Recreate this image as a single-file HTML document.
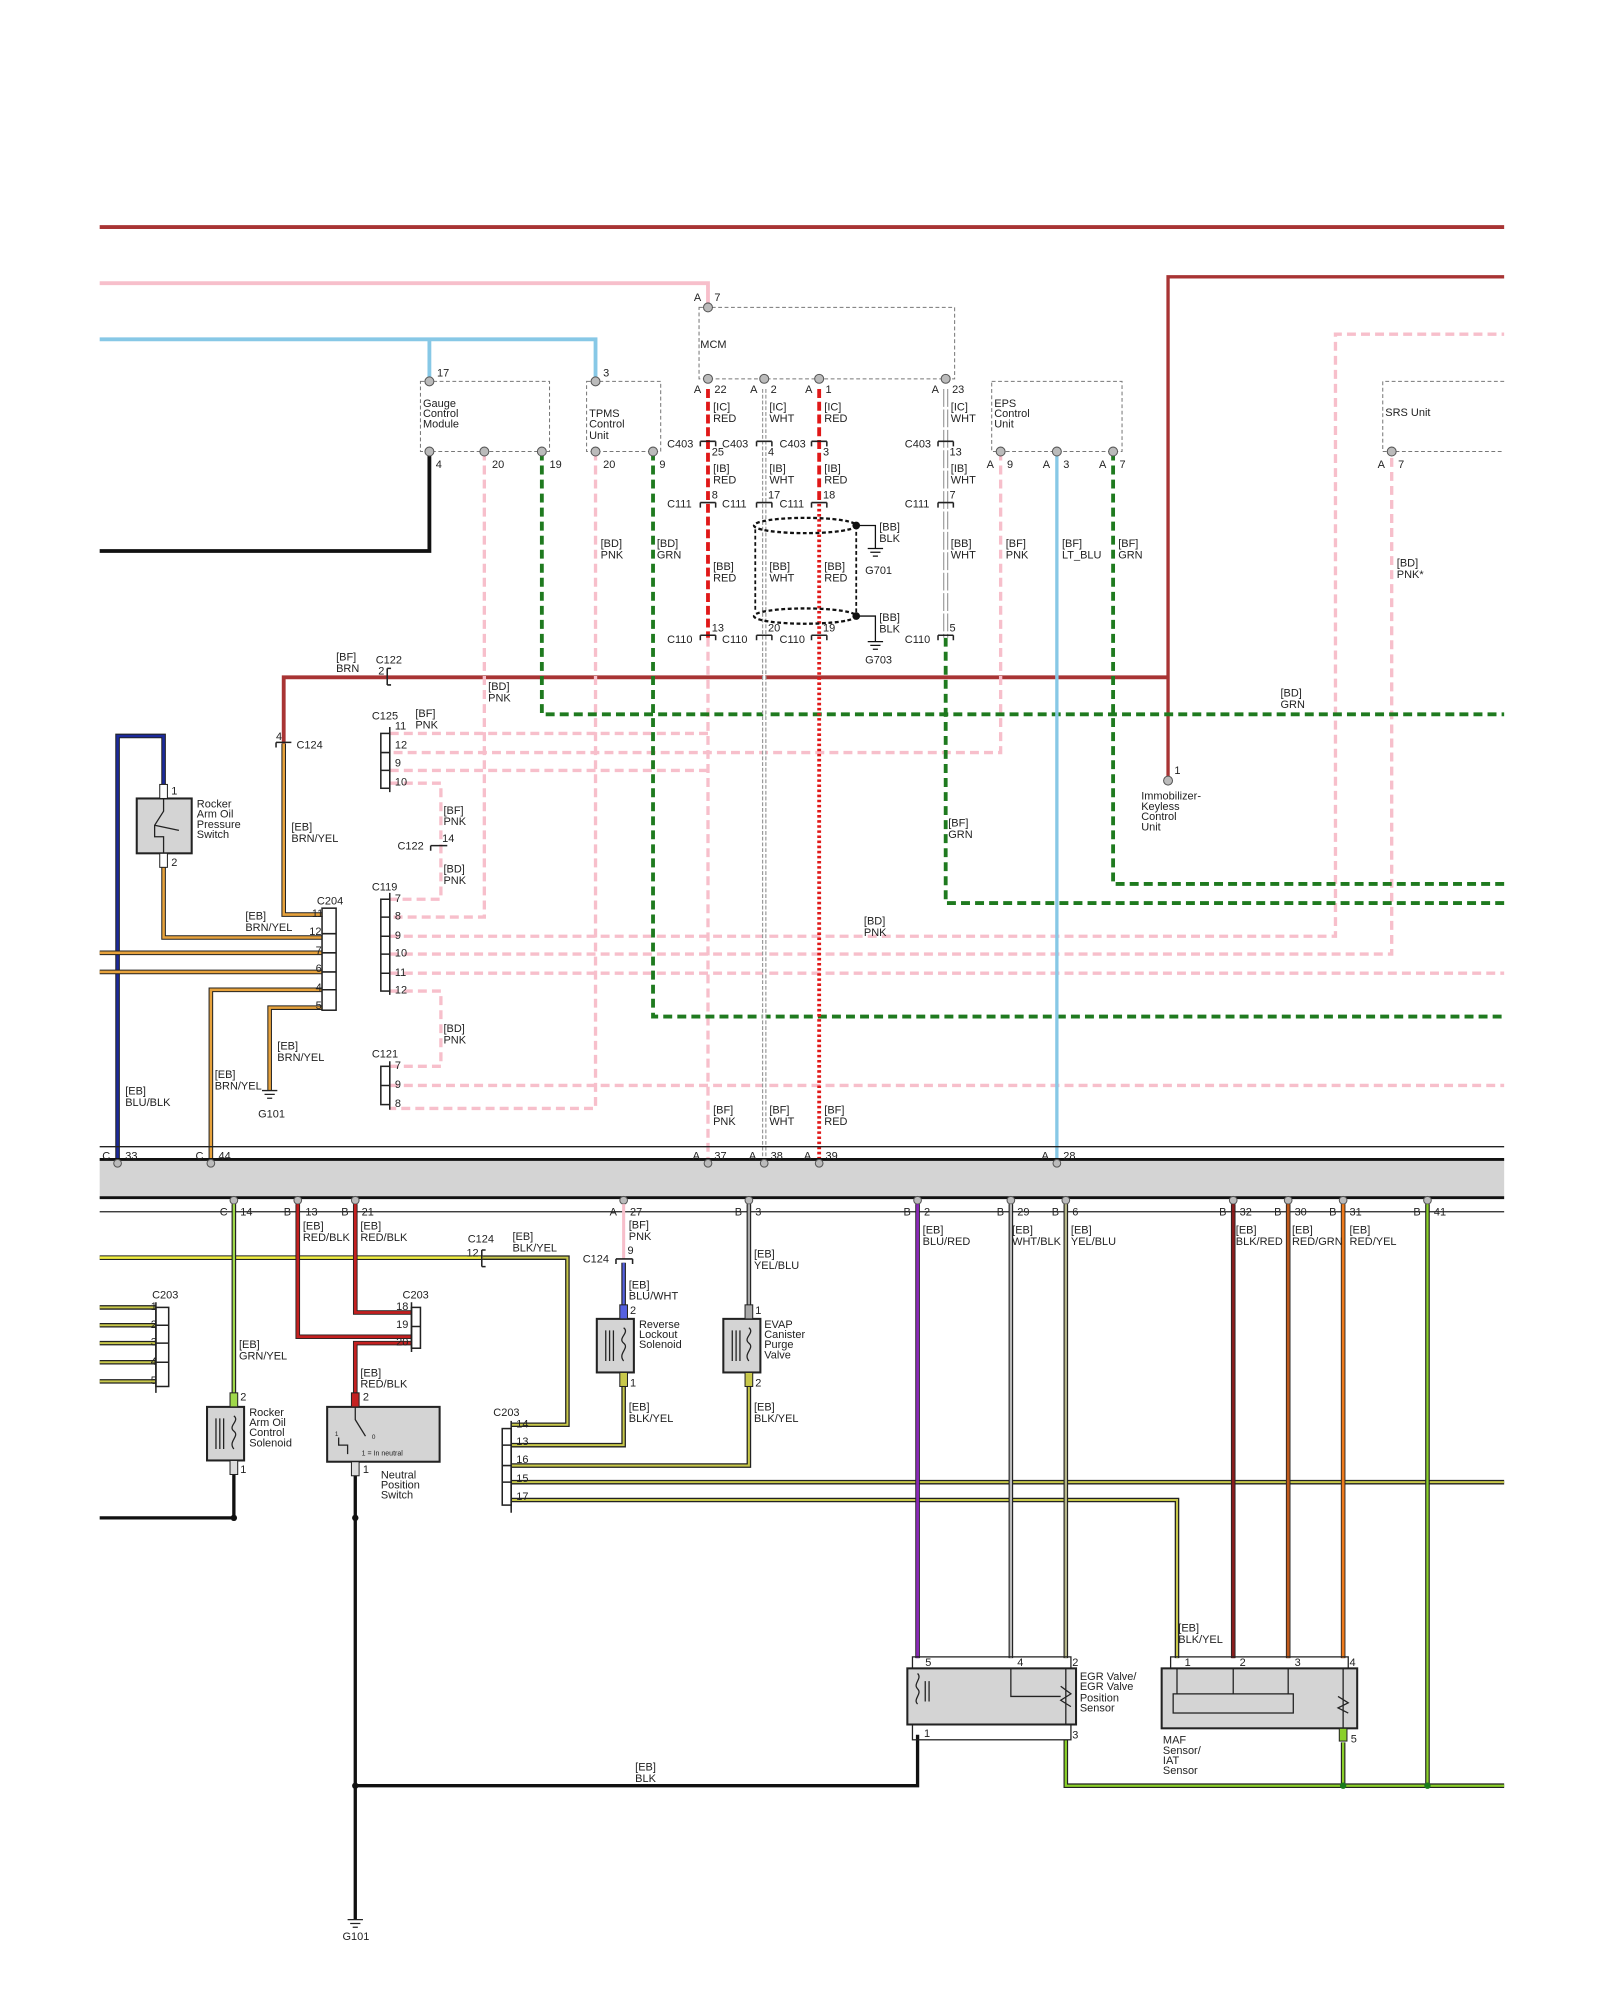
<!DOCTYPE html>
<html><head><meta charset="utf-8"><style>
html,body{margin:0;padding:0;background:#fff;}
svg{display:block;}
text{font-family:"Liberation Sans",sans-serif;font-size:8.6px;fill:#222;}
.k{fill:none;stroke:#222;stroke-width:3.6;}
.dp{fill:none;stroke:#f7bfcb;stroke-width:2.6;stroke-dasharray:7 4;}
.dg{fill:none;stroke:#1f7a1f;stroke-width:3;stroke-dasharray:7 4;}
.box{fill:none;stroke:#777;stroke-width:0.8;stroke-dasharray:3 2;}
.pin{fill:#bbb;stroke:#555;stroke-width:0.8;}
.comp{fill:#d4d4d4;stroke:#222;stroke-width:1.6;}
.cn{fill:none;stroke:#222;stroke-width:1.2;}
</style></head><body>
<svg width="1600" height="2000" viewBox="0 0 1252 1568" preserveAspectRatio="none" xmlns="http://www.w3.org/2000/svg">
<rect width="1252" height="1568" fill="#fff"/>
<!-- top wires -->
<path d="M78 178H1177" stroke="#a83434" stroke-width="3" fill="none"/>
<path d="M78 222H554V241" stroke="#f7bfcb" stroke-width="3" fill="none"/>
<path d="M78 266H466V299M336 266V299" stroke="#87c8e6" stroke-width="3" fill="none"/>
<path d="M1177 217H914V612" stroke="#a83434" stroke-width="2.6" fill="none"/>
<path d="M914 531H222V583" stroke="#a83434" stroke-width="3" fill="none"/>
<path d="M336 354V432H78" stroke="#111" stroke-width="3" fill="none"/>
<!-- boxes -->
<rect x="547" y="241" width="200" height="56" class="box"/>
<rect x="329" y="299" width="101" height="55" class="box"/>
<rect x="459" y="299" width="58" height="55" class="box"/>
<rect x="776" y="299" width="102" height="55" class="box"/>
<path d="M1177 299H1082V354H1177" class="box"/>
<text x="548" y="273">MCM</text>
<text x="331" y="319">Gauge</text><text x="331" y="327">Control</text><text x="331" y="335">Module</text>
<text x="461" y="327">TPMS</text><text x="461" y="335">Control</text><text x="461" y="344">Unit</text>
<text x="778" y="319">EPS</text><text x="778" y="327">Control</text><text x="778" y="335">Unit</text>
<text x="1084" y="326">SRS Unit</text>
<!-- pink dashed -->
<path class="dp" d="M379 354V719H305"/>
<path class="dp" d="M466 354V869H305"/>
<path class="dp" d="M554 500V912"/>
<path class="dp" d="M305 575H554M305 604H554"/>
<path class="dp" d="M783 354V590H305"/>
<path class="dp" d="M305 614H345V705H305"/>
<path class="dp" d="M305 734H1045V262H1177"/>
<path class="dp" d="M305 748H1089V354"/>
<path class="dp" d="M305 763H1177"/>
<path class="dp" d="M305 777H345V836H305"/>
<path class="dp" d="M305 851H1177"/>
<!-- green dashed -->
<path class="dg" d="M424 354V560H1177"/>
<path class="dg" d="M511 354V797H1177"/>
<path class="dg" d="M740 500V708H1177"/>
<path class="dg" d="M871 354V693H1177"/>
<path d="M827 354V912" stroke="#87c8e6" stroke-width="2.6" fill="none"/>
<!-- MCM wires -->
<path d="M554 305V500" stroke="#e01818" stroke-width="3" stroke-dasharray="7 3" fill="none"/>
<path d="M641 305V395" stroke="#e01818" stroke-width="3" stroke-dasharray="7 3" fill="none"/>
<path d="M641 395V912" stroke="#e01818" stroke-width="3" stroke-dasharray="2 2" fill="none"/>
<path d="M598 305V912" stroke="#999" stroke-width="3.5" stroke-dasharray="3 1.5" fill="none"/>
<path d="M598 305V912" stroke="#fff" stroke-width="1.6" fill="none"/>
<path d="M740 305V500" stroke="#999" stroke-width="4" stroke-dasharray="14 2" fill="none"/>
<path d="M740 305V500" stroke="#fff" stroke-width="2.2" fill="none"/>
<!-- shield -->
<ellipse cx="630" cy="412" rx="40" ry="6" fill="none" stroke="#111" stroke-width="1.8" stroke-dasharray="3 2"/>
<ellipse cx="630" cy="483" rx="40" ry="6" fill="none" stroke="#111" stroke-width="1.8" stroke-dasharray="3 2"/>
<path d="M591 415V480M670 412V483" stroke="#111" stroke-width="1.4" stroke-dasharray="3 2" fill="none"/>
<circle cx="670" cy="412" r="3" fill="#111"/><circle cx="670" cy="483" r="3" fill="#111"/>
<path d="M670 412H685V430M679 430H691M681 433H689M683 436H687" stroke="#111" stroke-width="1" fill="none"/>
<path d="M670 483H685V503M679 503H691M681 506H689M683 509H687" stroke="#111" stroke-width="1" fill="none"/>
<text x="688" y="416">[BB]</text><text x="688" y="425">BLK</text><text x="677" y="450">G701</text>
<text x="688" y="487">[BB]</text><text x="688" y="496">BLK</text><text x="677" y="520">G703</text>
<!-- inline connectors -->
<g class="cn">
<path d="M548 346H560M548 346V350M560 346V350M592 346H604M592 346V350M604 346V350M635 346H647M635 346V350M647 346V350M734 346H746M734 346V350M746 346V350"/>
<path d="M548 394H560M548 394V398M560 394V398M592 394H604M592 394V398M604 394V398M635 394H647M635 394V398M647 394V398M734 394H746M734 394V398M746 394V398"/>
<path d="M548 498H560M548 498V502M560 498V502M592 498H604M592 498V502M604 498V502M635 498H647M635 498V502M647 498V502M734 498H746M734 498V502M746 498V502"/>
</g>
<text x="522" y="351">C403</text><text x="565" y="351">C403</text><text x="610" y="351">C403</text><text x="708" y="351">C403</text>
<text x="522" y="398">C111</text><text x="565" y="398">C111</text><text x="610" y="398">C111</text><text x="708" y="398">C111</text>
<text x="522" y="504">C110</text><text x="565" y="504">C110</text><text x="610" y="504">C110</text><text x="708" y="504">C110</text>
<text x="557" y="357">25</text><text x="601" y="357">4</text><text x="644" y="357">3</text><text x="743" y="357">13</text>
<text x="557" y="391">8</text><text x="601" y="391">17</text><text x="644" y="391">18</text><text x="743" y="391">7</text>
<text x="557" y="495">13</text><text x="601" y="495">20</text><text x="644" y="495">19</text><text x="743" y="495">5</text>
<text x="558" y="322">[IC]</text><text x="558" y="331">RED</text>
<text x="602" y="322">[IC]</text><text x="602" y="331">WHT</text>
<text x="645" y="322">[IC]</text><text x="645" y="331">RED</text>
<text x="744" y="322">[IC]</text><text x="744" y="331">WHT</text>
<text x="558" y="370">[IB]</text><text x="558" y="379">RED</text>
<text x="602" y="370">[IB]</text><text x="602" y="379">WHT</text>
<text x="645" y="370">[IB]</text><text x="645" y="379">RED</text>
<text x="744" y="370">[IB]</text><text x="744" y="379">WHT</text>
<text x="558" y="447">[BB]</text><text x="558" y="456">RED</text>
<text x="602" y="447">[BB]</text><text x="602" y="456">WHT</text>
<text x="645" y="447">[BB]</text><text x="645" y="456">RED</text>
<text x="744" y="429">[BB]</text><text x="744" y="438">WHT</text>
<!-- pins top -->
<g class="pin">
<circle cx="554" cy="241" r="3.5"/><circle cx="336" cy="299" r="3.5"/><circle cx="466" cy="299" r="3.5"/>
<circle cx="554" cy="297" r="3.5"/><circle cx="598" cy="297" r="3.5"/><circle cx="641" cy="297" r="3.5"/><circle cx="740" cy="297" r="3.5"/>
<circle cx="336" cy="354" r="3.5"/><circle cx="379" cy="354" r="3.5"/><circle cx="424" cy="354" r="3.5"/>
<circle cx="466" cy="354" r="3.5"/><circle cx="511" cy="354" r="3.5"/>
<circle cx="783" cy="354" r="3.5"/><circle cx="827" cy="354" r="3.5"/><circle cx="871" cy="354" r="3.5"/><circle cx="1089" cy="354" r="3.5"/>
<circle cx="914" cy="612" r="3.5"/>
</g>
<text x="543" y="236">A</text><text x="559" y="236">7</text>
<text x="342" y="295">17</text><text x="472" y="295">3</text>
<text x="543" y="308">A</text><text x="559" y="308">22</text><text x="587" y="308">A</text><text x="603" y="308">2</text>
<text x="630" y="308">A</text><text x="646" y="308">1</text><text x="729" y="308">A</text><text x="745" y="308">23</text>
<text x="341" y="367">4</text><text x="385" y="367">20</text><text x="430" y="367">19</text><text x="472" y="367">20</text><text x="516" y="367">9</text>
<text x="772" y="367">A</text><text x="788" y="367">9</text><text x="816" y="367">A</text><text x="832" y="367">3</text><text x="860" y="367">A</text><text x="876" y="367">7</text>
<text x="1078" y="367">A</text><text x="1094" y="367">7</text>
<text x="470" y="429">[BD]</text><text x="470" y="438">PNK</text>
<text x="514" y="429">[BD]</text><text x="514" y="438">GRN</text>
<text x="787" y="429">[BF]</text><text x="787" y="438">PNK</text>
<text x="831" y="429">[BF]</text><text x="831" y="438">LT_BLU</text>
<text x="875" y="429">[BF]</text><text x="875" y="438">GRN</text>
<text x="1093" y="444">[BD]</text><text x="1093" y="453">PNK*</text>
<text x="919" y="607">1</text>
<text x="893" y="627">Immobilizer-</text><text x="893" y="635">Keyless</text><text x="893" y="643">Control</text><text x="893" y="651">Unit</text>
<text x="1002" y="546">[BD]</text><text x="1002" y="555">GRN</text>
<text x="742" y="648">[BF]</text><text x="742" y="657">GRN</text>
<text x="676" y="725">[BD]</text><text x="676" y="734">PNK</text>
<text x="263" y="518">[BF]</text><text x="263" y="527">BRN</text>
<text x="294" y="520">C122</text><text x="296" y="529">2</text>
<path d="M303 524V537M303 524H306M303 537H306" class="cn"/>
<text x="382" y="541">[BD]</text><text x="382" y="550">PNK</text>
<!-- C125 etc -->
<text x="291" y="564">C125</text><text x="325" y="562">[BF]</text><text x="325" y="571">PNK</text>
<rect x="298" y="575" width="7" height="43" class="cn"/>
<path d="M298 590H305M298 604H305M305 570V621" class="cn"/>
<text x="309" y="572">11</text><text x="309" y="587">12</text><text x="309" y="601">9</text><text x="309" y="616">10</text>
<text x="347" y="638">[BF]</text><text x="347" y="647">PNK</text>
<text x="311" y="666">C122</text><text x="346" y="660">14</text>
<path d="M337 663H350M337 663V667" class="cn"/>
<text x="347" y="684">[BD]</text><text x="347" y="693">PNK</text>
<text x="291" y="698">C119</text>
<rect x="298" y="705" width="7" height="72" class="cn"/>
<path d="M298 719H305M298 734H305M298 748H305M298 763H305M305 700V780" class="cn"/>
<text x="309" y="707">7</text><text x="309" y="721">8</text><text x="309" y="736">9</text><text x="309" y="750">10</text><text x="309" y="765">11</text><text x="309" y="779">12</text>
<text x="347" y="809">[BD]</text><text x="347" y="818">PNK</text>
<text x="291" y="829">C121</text>
<rect x="298" y="836" width="7" height="30" class="cn"/>
<path d="M298 851H305M305 832V870" class="cn"/>
<text x="309" y="838">7</text><text x="309" y="853">9</text><text x="309" y="868">8</text>
<!-- left orange/blue -->
<path class="k" d="M92 912V577H128V618"/><path d="M92 912V577H128V618" stroke="#1c2a9c" stroke-width="2" fill="none"/>
<g fill="none">
<path class="k" d="M222 583V717H252M128 676V735H252M78 747H252M78 762H252M252 776H165V912M252 790H211V855"/>
<path d="M222 583V717H252M128 676V735H252M78 747H252M78 762H252M252 776H165V912M252 790H211V855" stroke="#e7a23c" stroke-width="2"/>
</g>
<path d="M216 582H228M216 582V586" class="cn"/><text x="216" y="580">4</text><text x="232" y="587">C124</text>
<rect x="107" y="626" width="43" height="43" class="comp"/>
<rect x="125" y="615" width="6" height="11" fill="#fff" stroke="#222" stroke-width="0.8"/>
<rect x="125" y="669" width="6" height="11" fill="#fff" stroke="#222" stroke-width="0.8"/>
<path d="M128 626V636L121 647V656H128V669M121 647L140 651" stroke="#222" stroke-width="1" fill="none"/>
<text x="134" y="623">1</text><text x="134" y="679">2</text>
<text x="154" y="633">Rocker</text><text x="154" y="641">Arm Oil</text><text x="154" y="649">Pressure</text><text x="154" y="657">Switch</text>
<text x="228" y="651">[EB]</text><text x="228" y="660">BRN/YEL</text>
<text x="248" y="709">C204</text>
<rect x="252" y="712" width="11" height="80" class="cn"/>
<path d="M252 732H263M252 747H263M252 762H263M252 776H263" class="cn"/>
<text x="244" y="719">11</text><text x="242" y="733">12</text><text x="247" y="748">7</text><text x="247" y="762">6</text><text x="247" y="777">4</text><text x="247" y="791">5</text>
<text x="192" y="721">[EB]</text><text x="192" y="730">BRN/YEL</text>
<text x="217" y="823">[EB]</text><text x="217" y="832">BRN/YEL</text>
<text x="168" y="845">[EB]</text><text x="168" y="854">BRN/YEL</text>
<path d="M205 855H217M207 858H215M209 861H213" stroke="#222" stroke-width="1"/>
<text x="202" y="876">G101</text>
<text x="98" y="858">[EB]</text><text x="98" y="867">BLU/BLK</text>
<!-- band -->
<path d="M78 899H1177" stroke="#222" stroke-width="1"/>
<rect x="78" y="909" width="1099" height="30" fill="#d4d4d4"/>
<path d="M78 909H1177M78 939H1177" stroke="#111" stroke-width="2.2"/>
<path d="M78 950H1177" stroke="#222" stroke-width="1"/>
<g class="pin">
<circle cx="92" cy="912" r="3"/><circle cx="165" cy="912" r="3"/><circle cx="554" cy="912" r="3"/><circle cx="598" cy="912" r="3"/><circle cx="641" cy="912" r="3"/><circle cx="827" cy="912" r="3"/>
<circle cx="183" cy="941" r="3"/><circle cx="233" cy="941" r="3"/><circle cx="278" cy="941" r="3"/><circle cx="488" cy="941" r="3"/><circle cx="586" cy="941" r="3"/>
<circle cx="718" cy="941" r="3"/><circle cx="791" cy="941" r="3"/><circle cx="834" cy="941" r="3"/><circle cx="965" cy="941" r="3"/><circle cx="1008" cy="941" r="3"/><circle cx="1051" cy="941" r="3"/><circle cx="1117" cy="941" r="3"/>
</g>
<text x="80" y="909">C</text><text x="98" y="909">33</text><text x="153" y="909">C</text><text x="171" y="909">44</text>
<text x="542" y="909">A</text><text x="559" y="909">37</text><text x="586" y="909">A</text><text x="603" y="909">38</text><text x="629" y="909">A</text><text x="646" y="909">39</text><text x="815" y="909">A</text><text x="832" y="909">28</text>
<text x="558" y="873">[BF]</text><text x="558" y="882">PNK</text><text x="602" y="873">[BF]</text><text x="602" y="882">WHT</text><text x="645" y="873">[BF]</text><text x="645" y="882">RED</text>
<text x="172" y="953">C</text><text x="188" y="953">14</text><text x="222" y="953">B</text><text x="239" y="953">13</text><text x="267" y="953">B</text><text x="283" y="953">21</text>
<text x="477" y="953">A</text><text x="493" y="953">27</text><text x="575" y="953">B</text><text x="591" y="953">3</text>
<text x="707" y="953">B</text><text x="723" y="953">2</text><text x="780" y="953">B</text><text x="796" y="953">29</text><text x="823" y="953">B</text><text x="839" y="953">6</text>
<text x="954" y="953">B</text><text x="970" y="953">32</text><text x="997" y="953">B</text><text x="1013" y="953">30</text><text x="1040" y="953">B</text><text x="1056" y="953">31</text><text x="1106" y="953">B</text><text x="1122" y="953">41</text>
<!-- bottom wires -->
<g fill="none">
<path class="k" d="M78 986H378" stroke-width="3.4"/><path d="M78 986H378" stroke="#f2f040" stroke-width="2"/>
<path class="k" d="M378 986H444V1117H400M78 1025H122M78 1039H122M78 1053H122M78 1068H122M78 1083H122M488 1085V1133H400M586 1085V1149H400M400 1162H1177M400 1176H921V1300" stroke-width="3"/>
<path d="M378 986H444V1117H400M78 1025H122M78 1039H122M78 1053H122M78 1068H122M78 1083H122M488 1085V1133H400M586 1085V1149H400M400 1162H1177M400 1176H921V1300" stroke="#c8c84a" stroke-width="1.6"/>
<path class="k" d="M183 944V1093" stroke-width="3"/><path d="M183 944V1093" stroke="#9fd84a" stroke-width="1.8"/>
<path class="k" d="M233 944V1048H322M278 944V1029H322M322 1053H278V1093" stroke-width="3.4"/>
<path d="M233 944V1048H322M278 944V1029H322M322 1053H278V1093" stroke="#c42020" stroke-width="2.2"/>
<path d="M488 944V987" stroke="#f7bfcb" stroke-width="2.4"/>
<path class="k" d="M488 990V1027" stroke-width="3"/><path d="M488 990V1027" stroke="#5561e0" stroke-width="1.8"/>
<path class="k" d="M586 944V1027" stroke-width="3"/><path d="M586 944V1027" stroke="#aaa" stroke-width="1.8"/>
<path d="M183 1150V1190H78M278 1155V1505M278 1400H718V1360" stroke="#111" stroke-width="2.6"/>
<path class="k" d="M718 944V1300" stroke-width="3.4"/><path d="M718 944V1300" stroke="#8a2ab8" stroke-width="2.2"/>
<path class="k" d="M791 944V1300" stroke-width="3"/><path d="M791 944V1300" stroke="#bbb" stroke-width="1.8"/>
<path class="k" d="M834 944V1300" stroke-width="3"/><path d="M834 944V1300" stroke="#b8b88a" stroke-width="1.8"/>
<path class="k" d="M965 944V1300" stroke-width="3.4"/><path d="M965 944V1300" stroke="#8a1c1c" stroke-width="2.2"/>
<path class="k" d="M1008 944V1300" stroke-width="3.4"/><path d="M1008 944V1300" stroke="#c05a1c" stroke-width="2.2"/>
<path class="k" d="M1051 944V1300" stroke-width="3.4"/><path d="M1051 944V1300" stroke="#ee7a1c" stroke-width="2.2"/>
<path class="k" d="M834 1364V1400H1177M1051 1366V1400M1117 944V1400" stroke-width="3"/>
<path d="M834 1364V1400H1177M1051 1366V1400M1117 944V1400" stroke="#8ad02a" stroke-width="1.8"/>
</g>
<circle cx="1051" cy="1400" r="2.5" fill="#1a7a1a"/><circle cx="1117" cy="1400" r="2.5" fill="#1a7a1a"/>
<circle cx="183" cy="1190" r="2.5" fill="#111"/><circle cx="278" cy="1190" r="2.5" fill="#111"/><circle cx="278" cy="1400" r="2.5" fill="#111"/>
<path d="M272 1505H284M274 1508H282M276 1511H280" stroke="#222" stroke-width="1"/>
<text x="268" y="1521">G101</text>
<text x="497" y="1388">[EB]</text><text x="497" y="1397">BLK</text>
<!-- bottom labels/components -->
<text x="237" y="964">[EB]</text><text x="237" y="973">RED/BLK</text>
<text x="282" y="964">[EB]</text><text x="282" y="973">RED/BLK</text>
<text x="366" y="974">C124</text><text x="365" y="985">12</text>
<path d="M377 980V993M377 980H380M377 993H380" class="cn"/>
<text x="401" y="972">[EB]</text><text x="401" y="981">BLK/YEL</text>
<text x="492" y="963">[BF]</text><text x="492" y="972">PNK</text>
<text x="456" y="990">C124</text><text x="491" y="983">9</text>
<path d="M482 987H495M482 987V991M495 987V991" class="cn"/>
<text x="492" y="1010">[EB]</text><text x="492" y="1019">BLU/WHT</text>
<text x="590" y="986">[EB]</text><text x="590" y="995">YEL/BLU</text>
<text x="119" y="1018">C203</text>
<rect x="122" y="1025" width="10" height="62" class="cn"/>
<path d="M122 1039H132M122 1053H132M122 1068H132M122 1021V1092" class="cn"/>
<text x="118" y="1027">1</text><text x="118" y="1041">2</text><text x="118" y="1055">3</text><text x="118" y="1070">4</text><text x="118" y="1085">5</text>
<text x="315" y="1018">C203</text>
<rect x="322" y="1025" width="7" height="32" class="cn"/>
<path d="M322 1040H329M322 1021V1060" class="cn"/>
<text x="310" y="1027">18</text><text x="310" y="1041">19</text><text x="310" y="1055">20</text>
<text x="187" y="1057">[EB]</text><text x="187" y="1066">GRN/YEL</text>
<text x="282" y="1079">[EB]</text><text x="282" y="1088">RED/BLK</text>
<rect x="162" y="1103" width="29" height="42" class="comp"/>
<rect x="180" y="1092" width="6" height="11" fill="#9fd84a" stroke="#222" stroke-width="0.8"/>
<rect x="180" y="1145" width="6" height="11" fill="#ddd" stroke="#222" stroke-width="0.8"/>
<path d="M169 1112V1136M172 1112V1136M175 1112V1136M183 1110C188 1114 178 1118 183 1122C188 1126 178 1130 183 1136" stroke="#222" stroke-width="1" fill="none"/>
<text x="188" y="1098">2</text><text x="188" y="1155">1</text>
<text x="195" y="1110">Rocker</text><text x="195" y="1118">Arm Oil</text><text x="195" y="1126">Control</text><text x="195" y="1134">Solenoid</text>
<rect x="256" y="1103" width="88" height="43" class="comp"/>
<rect x="275" y="1092" width="6" height="11" fill="#c42020" stroke="#222" stroke-width="0.8"/>
<rect x="275" y="1146" width="6" height="11" fill="#ddd" stroke="#222" stroke-width="0.8"/>
<path d="M278 1103V1113L286 1126M265 1127V1133H272V1140" stroke="#222" stroke-width="1" fill="none"/>
<text x="262" y="1126" style="font-size:5px">1</text><text x="291" y="1128" style="font-size:5px">0</text>
<text x="283" y="1141" style="font-size:5.5px">1 = In neutral</text>
<text x="284" y="1098">2</text><text x="284" y="1155">1</text>
<text x="298" y="1159">Neutral</text><text x="298" y="1167">Position</text><text x="298" y="1175">Switch</text>
<rect x="467" y="1034" width="29" height="42" class="comp"/>
<rect x="485" y="1023" width="6" height="11" fill="#5561e0" stroke="#222" stroke-width="0.8"/>
<rect x="485" y="1076" width="6" height="11" fill="#c8c84a" stroke="#222" stroke-width="0.8"/>
<path d="M474 1043V1067M477 1043V1067M480 1043V1067M488 1041C493 1045 483 1049 488 1053C493 1057 483 1061 488 1067" stroke="#222" stroke-width="1" fill="none"/>
<text x="493" y="1030">2</text><text x="493" y="1087">1</text>
<text x="500" y="1041">Reverse</text><text x="500" y="1049">Lockout</text><text x="500" y="1057">Solenoid</text>
<rect x="566" y="1034" width="29" height="42" class="comp"/>
<rect x="583" y="1023" width="6" height="11" fill="#aaa" stroke="#222" stroke-width="0.8"/>
<rect x="583" y="1076" width="6" height="11" fill="#c8c84a" stroke="#222" stroke-width="0.8"/>
<path d="M573 1043V1067M576 1043V1067M579 1043V1067M586 1041C591 1045 581 1049 586 1053C591 1057 581 1061 586 1067" stroke="#222" stroke-width="1" fill="none"/>
<text x="591" y="1030">1</text><text x="591" y="1087">2</text>
<text x="598" y="1041">EVAP</text><text x="598" y="1049">Canister</text><text x="598" y="1057">Purge</text><text x="598" y="1065">Valve</text>
<text x="492" y="1106">[EB]</text><text x="492" y="1115">BLK/YEL</text>
<text x="590" y="1106">[EB]</text><text x="590" y="1115">BLK/YEL</text>
<text x="386" y="1110">C203</text>
<rect x="393" y="1120" width="7" height="60" class="cn"/>
<path d="M393 1133H400M393 1149H400M393 1162H400M400 1114V1186" class="cn"/>
<text x="404" y="1119">14</text><text x="404" y="1133">13</text><text x="404" y="1147">16</text><text x="404" y="1162">15</text><text x="404" y="1176">17</text>
<text x="722" y="967">[EB]</text><text x="722" y="976">BLU/RED</text>
<text x="792" y="967">[EB]</text><text x="792" y="976">WHT/BLK</text>
<text x="838" y="967">[EB]</text><text x="838" y="976">YEL/BLU</text>
<text x="967" y="967">[EB]</text><text x="967" y="976">BLK/RED</text>
<text x="1011" y="967">[EB]</text><text x="1011" y="976">RED/GRN</text>
<text x="1056" y="967">[EB]</text><text x="1056" y="976">RED/YEL</text>
<text x="922" y="1279">[EB]</text><text x="922" y="1288">BLK/YEL</text>
<!-- EGR -->
<rect x="714" y="1299" width="124" height="65" fill="none" stroke="#222" stroke-width="1"/>
<rect x="710" y="1308" width="132" height="44" class="comp"/>
<path d="M791 1308V1330H830M834 1308V1352M830 1322L838 1328L830 1333L838 1338" stroke="#222" stroke-width="1" fill="none"/>
<path d="M718 1312C722 1316 714 1320 718 1324C722 1328 714 1332 718 1336M724 1318V1334M727 1318V1334" stroke="#222" stroke-width="1" fill="none"/>
<text x="724" y="1306">5</text><text x="796" y="1306">4</text><text x="839" y="1306">2</text><text x="723" y="1362">1</text><text x="839" y="1363">3</text>
<text x="845" y="1317">EGR Valve/</text><text x="845" y="1325">EGR Valve</text><text x="845" y="1334">Position</text><text x="845" y="1342">Sensor</text>
<!-- MAF -->
<rect x="916" y="1299" width="139" height="9" fill="none" stroke="#222" stroke-width="1"/>
<rect x="909" y="1308" width="153" height="47" class="comp"/>
<rect x="918" y="1328" width="94" height="15" fill="#d4d4d4" stroke="#222" stroke-width="1"/>
<path d="M921 1308V1328M965 1308V1328M1008 1308V1328M1051 1308V1355M1047 1330L1055 1335L1047 1339L1055 1343" stroke="#222" stroke-width="1" fill="none"/>
<rect x="1048" y="1355" width="6" height="10" fill="#8ad02a" stroke="#222" stroke-width="0.8"/>
<text x="927" y="1306">1</text><text x="970" y="1306">2</text><text x="1013" y="1306">3</text><text x="1056" y="1306">4</text><text x="1057" y="1366">5</text>
<text x="910" y="1367">MAF</text><text x="910" y="1375">Sensor/</text><text x="910" y="1383">IAT</text><text x="910" y="1391">Sensor</text>
</svg>
</body></html>
